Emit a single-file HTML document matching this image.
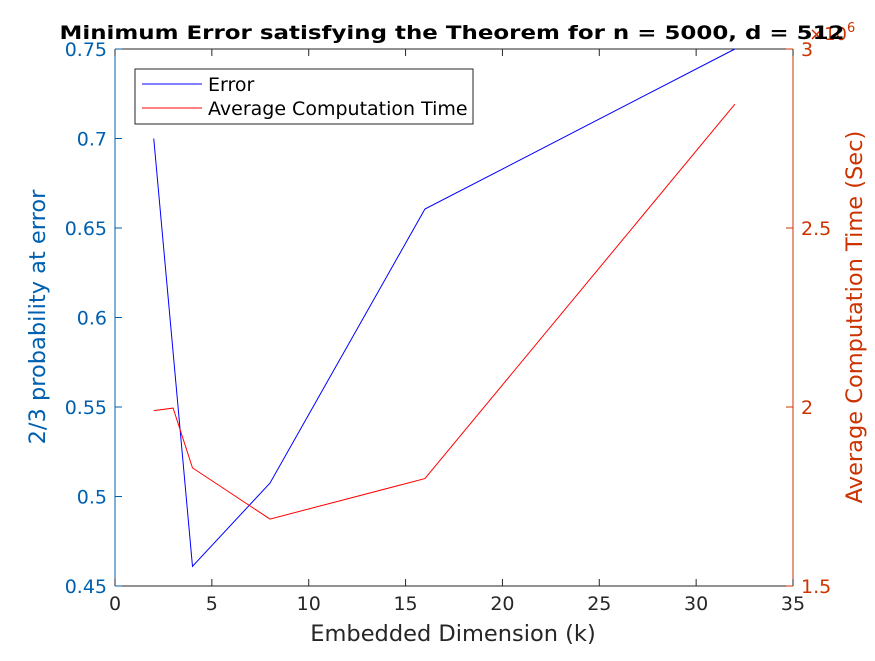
<!DOCTYPE html>
<html><head><meta charset="utf-8"><style>
body{margin:0;background:#fff}
svg{font-family:"DejaVu Sans","Liberation Sans",sans-serif}
</style></head><body>
<svg id="chart" width="875" height="656" viewBox="0 0 875 656" xmlns="http://www.w3.org/2000/svg">
<rect width="875" height="656" fill="#fff"/>
<g id="g"></g>
</svg>
<script>
const errX=[2,4,8,16,32];
const errY=[0.70,0.461,0.5075,0.6606,0.75];
const timeX=[2,3,4,8,16,32];
const timeY=[1.99,1.997,1.83,1.687,1.80,2.846];
const xTicks=[0,5,10,15,20,25,30,35];
const yLTicks=[0.45,0.5,0.55,0.6,0.65,0.7,0.75];
const yRTicks=[1.5,2,2.5,3];
const L=115,R=793,T=49,B=586;
const sx=v=>L+(v-0)/35*(R-L);
const syL=v=>B-(v-0.45)/0.3*(B-T);
const syR=v=>B-(v-1.5)/1.5*(B-T);
const NS="http://www.w3.org/2000/svg";
const g=document.getElementById('g');
function mk(t,a,txt){const e=document.createElementNS(NS,t);for(const k in a)e.setAttribute(k,a[k]);if(txt!==undefined)e.textContent=txt;g.appendChild(e);return e;}
const blueAx="#0060B0", redAx="#CC3300";
let e;
e=mk('line',{x1:L,y1:B,x2:R,y2:B,stroke:'#262626','stroke-width':1});

e=mk('line',{x1:L,y1:T,x2:R,y2:T,stroke:'#262626','stroke-width':1});

e=mk('line',{x1:L,y1:T,x2:L,y2:B,stroke:blueAx,'stroke-width':1});

e=mk('line',{x1:R,y1:T,x2:R,y2:B,stroke:redAx,'stroke-width':1});

xTicks.forEach(v=>{const x=sx(v);
 e=mk('line',{x1:x,y1:B,x2:x,y2:B-7,stroke:'#262626'});
 e=mk('line',{x1:x,y1:T,x2:x,y2:T+7,stroke:'#262626'});
 e=mk('text',{x:x,y:B+24,'text-anchor':'middle','font-size':19,fill:'#262626'},v);});
yLTicks.forEach(v=>{const y=syL(v);
 e=mk('line',{x1:L,y1:y,x2:L+7,y2:y,stroke:blueAx});
 e=mk('text',{x:L-8,y:y+7,'text-anchor':'end','font-size':19,fill:blueAx},v);});
yRTicks.forEach(v=>{const y=syR(v);
 e=mk('line',{x1:R,y1:y,x2:R-7,y2:y,stroke:redAx});
 e=mk('text',{x:R+8,y:y+7,'font-size':19,fill:redAx},v);});
e=mk('text',{x:R+16,y:T-9,'font-size':18,fill:redAx},'×10');
e=mk('text',{x:R+54,y:T-17,'font-size':13,fill:redAx},'6');
e=mk('polyline',{points:errX.map((x,i)=>sx(x)+','+syL(errY[i])).join(' '),fill:'none',stroke:'#0000ff','stroke-width':1});

e=mk('polyline',{points:timeX.map((x,i)=>sx(x)+','+syR(timeY[i])).join(' '),fill:'none',stroke:'#ff0000','stroke-width':1});

e=mk('text',{x:452,y:39,'text-anchor':'middle','font-size':19,'font-weight':'bold',fill:'#000',textLength:785,lengthAdjust:'spacingAndGlyphs'},'Minimum Error satisfying the Theorem for n = 5000, d = 512');

e=mk('text',{x:453,y:641,'text-anchor':'middle','font-size':22.5,fill:'#262626'},'Embedded Dimension (k)');

e=mk('text',{x:45,y:317,'text-anchor':'middle','font-size':22.5,fill:blueAx,transform:'rotate(-90 45 317)'},'2/3 probability at error');

e=mk('text',{x:862,y:317,'text-anchor':'middle','font-size':22.5,fill:redAx,transform:'rotate(-90 862 317)'},'Average Computation Time (Sec)');

e=mk('rect',{x:135,y:69,width:338,height:55,fill:'#fff',stroke:'#262626','stroke-width':1});

e=mk('line',{x1:142,y1:84,x2:202,y2:84,stroke:'#0000ff'});
e=mk('text',{x:208,y:91,'font-size':19,fill:'#000'},'Error');
e=mk('line',{x1:142,y1:108,x2:202,y2:108,stroke:'#ff0000'});
e=mk('text',{x:208,y:115,'font-size':19,fill:'#000'},'Average Computation Time');
</script>
</body></html>
